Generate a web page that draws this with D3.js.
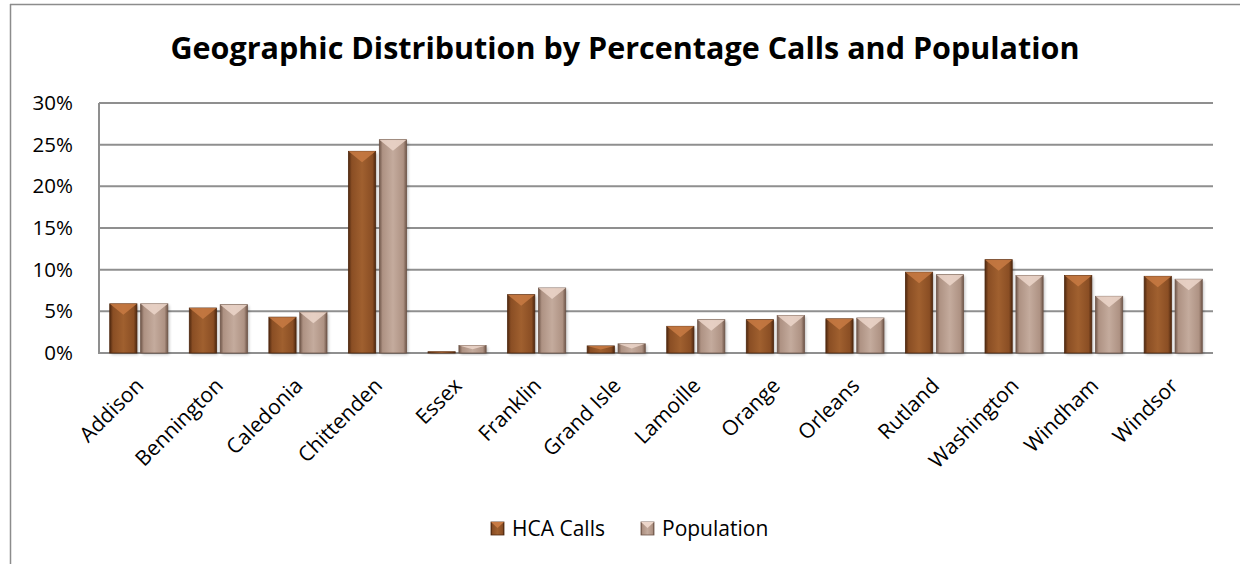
<!DOCTYPE html>
<html>
<head>
<meta charset="utf-8">
<script src="https://cdnjs.cloudflare.com/ajax/libs/d3/7.8.5/d3.min.js"></script>
<style>
  body { margin: 0; background: #fff; }
  text { font-family: "Open Sans", sans-serif; fill: #000; }
</style>
</head>
<body>
<div id="chart"></div>
<script>
var counties = ["Addison", "Bennington", "Caledonia", "Chittenden", "Essex", "Franklin", "Grand Isle",
                "Lamoille", "Orange", "Orleans", "Rutland", "Washington", "Windham", "Windsor"];
var hcaCalls   = [5.9, 5.4, 4.3, 24.2, 0.15, 7.0, 0.85, 3.2, 4.0, 4.1, 9.7, 11.2, 9.3, 9.2];
var population = [5.9, 5.8, 4.9, 25.6, 0.9, 7.8, 1.1, 4.0, 4.5, 4.2, 9.4, 9.3, 6.8, 8.85];
var seriesNames = ["HCA Calls", "Population"];
var yTicks = [0, 5, 10, 15, 20, 25, 30];

var width = 1240, height = 564;
var plot = { left: 99, right: 1213, top: 103, bottom: 353 };

var svg = d3.select("#chart").append("svg")
    .attr("width", width)
    .attr("height", height);

// colours for the bevelled bars
var palette = [
    { edge: "#4f280f", mid: "#8a4e24", top: "#c87a43", light: "#a0602f" },
    { edge: "#6f5649", mid: "#ae9283", top: "#ecd6ca", light: "#c4ab9d" }
];

var defs = svg.append("defs");
palette.forEach(function (p, i) {
    var g = defs.append("linearGradient")
        .attr("id", "grad" + i)
        .attr("x1", "0%").attr("x2", "100%").attr("y1", "0%").attr("y2", "0%");
    g.append("stop").attr("offset", "0%").attr("stop-color", p.edge);
    g.append("stop").attr("offset", "12%").attr("stop-color", p.mid);
    g.append("stop").attr("offset", "50%").attr("stop-color", p.light);
    g.append("stop").attr("offset", "88%").attr("stop-color", p.mid);
    g.append("stop").attr("offset", "100%").attr("stop-color", p.edge);
});
var shadow = defs.append("filter").attr("id", "shadow")
    .attr("x", "-20%").attr("y", "-20%").attr("width", "140%").attr("height", "140%");
shadow.append("feGaussianBlur").attr("stdDeviation", 1.5);

// outer frame (only top and left visible)
svg.append("line").attr("x1", 10).attr("y1", 4.5).attr("x2", width).attr("y2", 4.5)
    .attr("stroke", "#8c8c8c").attr("stroke-width", 1.5);
svg.append("line").attr("x1", 10.5).attr("y1", 4).attr("x2", 10.5).attr("y2", height)
    .attr("stroke", "#8c8c8c").attr("stroke-width", 1.5);

svg.append("text")
    .attr("x", 625)
    .attr("y", 59)
    .attr("text-anchor", "middle")
    .attr("font-size", "30.5px")
    .attr("font-weight", "bold")
    .text("Geographic Distribution by Percentage Calls and Population");

var x = d3.scaleBand()
    .domain(counties)
    .range([plot.left, plot.right])
    .paddingInner(0.27)
    .paddingOuter(0.135);

var xInner = d3.scaleBand()
    .domain(seriesNames)
    .range([0, x.bandwidth()])
    .paddingInner(0.12);

var y = d3.scaleLinear()
    .domain([0, 30])
    .range([plot.bottom, plot.top]);

// gridlines
svg.append("g")
    .selectAll("line")
    .data(yTicks)
    .join("line")
    .attr("x1", plot.left)
    .attr("x2", plot.right)
    .attr("y1", function (d) { return y(d); })
    .attr("y2", function (d) { return y(d); })
    .attr("stroke", "#8f8f8f")
    .attr("stroke-width", 2);

svg.append("line")
    .attr("x1", plot.left).attr("x2", plot.left)
    .attr("y1", y(30)).attr("y2", y(0) + 1)
    .attr("stroke", "#8f8f8f").attr("stroke-width", 2);

// y axis labels
var yAxis = d3.axisLeft(y)
    .tickValues(yTicks)
    .tickSize(0)
    .tickPadding(26)
    .tickFormat(function (d) { return d + "%"; });
var yG = svg.append("g")
    .attr("transform", "translate(" + plot.left + ",0)")
    .call(yAxis);
yG.select(".domain").remove();
yG.selectAll("text")
    .attr("font-size", "20.5px")
    .attr("font-family", "'Open Sans', sans-serif")
    .attr("fill", "#000");

var rows = counties.map(function (c, i) {
    return { county: c, values: [hcaCalls[i], population[i]] };
});

var groups = svg.append("g")
    .selectAll("g")
    .data(rows)
    .join("g")
    .attr("transform", function (d) { return "translate(" + x(d.county) + ",0)"; });

function drawBar(sel, s) {
    var bw = xInner.bandwidth();
    var x0 = function (d) { return xInner(seriesNames[s]); };
    // soft shadow
    sel.append("rect")
        .attr("x", function (d) { return x0(d) + 1.5; })
        .attr("y", function (d) { return y(d.values[s]) + 1.5; })
        .attr("width", bw)
        .attr("height", function (d) { return y(0) - y(d.values[s]); })
        .attr("fill", "#000")
        .attr("opacity", 0.25)
        .attr("filter", "url(#shadow)");
    sel.append("rect")
        .attr("x", x0)
        .attr("y", function (d) { return y(d.values[s]); })
        .attr("width", bw)
        .attr("height", function (d) { return y(0) - y(d.values[s]); })
        .attr("fill", "url(#grad" + s + ")")
        .attr("stroke", palette[s].edge)
        .attr("stroke-width", 0.8);
    // bevel highlight on top
    sel.append("path")
        .attr("d", function (d) {
            var top = y(d.values[s]);
            var h = Math.min(11, (y(0) - top) / 2);
            var l = x0(d), r = l + bw;
            return "M" + l + "," + top + "L" + r + "," + top +
                "L" + (l + bw / 2) + "," + (top + h) + "Z";
        })
        .attr("fill", palette[s].top)
        .attr("opacity", 0.85);
}
groups.call(drawBar, 0);
groups.call(drawBar, 1);

// category labels
svg.append("g")
    .selectAll("text")
    .data(counties)
    .join("text")
    .attr("transform", function (d) {
        return "translate(" + (x(d) + x.bandwidth() / 2 + 6) + ",387) rotate(-45)";
    })
    .attr("text-anchor", "end")
    .attr("font-size", "21px")
    .text(function (d) { return d; });

// legend
var legendX = [491, 641];
var legend = svg.append("g")
    .selectAll("g")
    .data(seriesNames)
    .join("g")
    .attr("transform", function (d, i) { return "translate(" + legendX[i] + ",522)"; });
legend.append("rect")
    .attr("width", 13).attr("height", 13)
    .attr("fill", function (d, i) { return "url(#grad" + i + ")"; })
    .attr("stroke", function (d, i) { return palette[i].edge; })
    .attr("stroke-width", 0.8);
legend.append("path")
    .attr("d", "M0,0L13,0L6.5,6Z")
    .attr("fill", function (d, i) { return palette[i].top; });
legend.append("text")
    .attr("x", 21)
    .attr("y", 14)
    .attr("font-size", "21px")
    .text(function (d) { return d; });
</script>
</body>
</html>
